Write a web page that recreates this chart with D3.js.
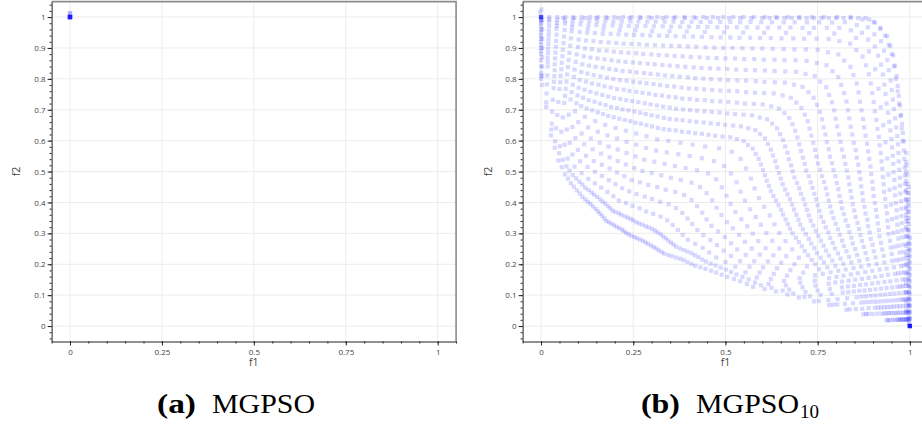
<!DOCTYPE html>
<html>
<head>
<meta charset="utf-8">
<script src="https://cdn.jsdelivr.net/npm/d3@7"></script>
<style>
  body { margin: 0; background: #fff; }
  svg { display: block; }
</style>
</head>
<body>
<svg id="chart" width="922" height="425"></svg>
<script>
const xTicks = [0, 0.25, 0.5, 0.75, 1];
const yTicks = [0, 0.1, 0.2, 0.3, 0.4, 0.5, 0.6, 0.7, 0.8, 0.9, 1];

// (a) MGPSO: everything collapsed onto (0, 1)
const mgpsoPts = [[0,1],[0,1],[0,1],[0,1],[0,1],[0,1],[0,1.012]];

// (b) MGPSO10, corner clusters first
const cornerPts = [[0,1],[0,1],[0,1],[0,1],[0,1],[0,1],[-.002,1.015],[.001,1.025],
  [1,0],[1,0],[1,0],[1,0],[1,0],[1,0],[1,0],[1,0],[1,0],[1,0],[1,0],[1,0]];

// outer rim: right edge column, rounded corner, top row, left column
const edgePts = [
  [.997,.01],[.997,.03],[.997,.05],[.997,.07],[.997,.09],[.997,.11],[.997,.13],[.997,.15],[.997,.17],[.997,.19],[.997,.21],[.997,.23],
  [.997,.25],[.997,.27],[.997,.29],[.997,.31],[.997,.33],[.997,.35],[.997,.37],[.997,.39],[.997,.41],[.997,.43],[.997,.45],
  [1,.005],[1,.025],[1,.045],[1,.065],[1,.085],[1,.105],[1,.125],[1,.145],[1,.165],[1,.185],[1,.205],[1,.225],[1,.245],[1,.265],[1,.285],
  [.994,.31],[.994,.34],[.994,.37],[.994,.40],[.993,.43],[.993,.46],[.992,.49],[.991,.52],
  [.99,.02],[.99,.05],[.99,.08],[.99,.11],[.99,.14],[.99,.17],[.99,.20],[.99,.23],[.99,.26],[.99,.29],[.99,.32],[.99,.35],
  [.99,.38],[.99,.41],[.99,.44],[.99,.47],[.99,.50],[.99,.53],[.99,.56],
  [.981,.60],[.978,.64],[.975,.68],[.971,.72],[.967,.76],[.962,.80],[.957,.84],[.951,.88],[.943,.91],[.933,.94],[.920,.965],[.905,.982],[.89,.992],
  [.88,.997],[.86,.997],[.84,.997],[.82,.997],[.80,.997],[.78,.997],[.76,.997],[.74,.997],[.72,.997],[.70,.997],[.68,.997],[.66,.997],
  [.64,.997],[.62,.997],[.60,.997],[.57,.997],[.54,.997],[.51,.997],[.48,.997],[.45,.997],[.42,.997],[.39,.997],[.36,.997],[.33,.997],
  [.30,.997],[.27,.997],[.24,.997],[.21,.997],[.18,.997],[.15,.997],[.12,.997],[.09,.997],[.06,.997],
  [.003,.78],[.003,.81],[.003,.84],[.003,.87],[.003,.90],[.003,.93],[.003,.96],[.003,.99]
];

const sweepA = [
  [.874,.038],[.887,.039],[.899,.039],[.912,.040],[.924,.040],[.937,.041],[.949,.042],[.962,.042],[.974,.043],[.987,.043],[.999,.044],[.993,.044],
  [.781,.068],[.803,.070],[.824,.072],[.846,.074],[.868,.076],[.890,.078],[.911,.079],[.933,.081],[.955,.083],[.976,.085],[.998,.087],[.987,.086],
  [.699,.092],[.729,.096],[.758,.100],[.788,.104],[.818,.108],[.848,.112],[.877,.115],[.907,.119],[.937,.123],[.966,.127],[.996,.131],[.981,.129],
  [.637,.112],[.673,.118],[.709,.125],[.744,.131],[.780,.137],[.816,.144],[.852,.150],[.888,.156],[.923,.162],[.959,.169],[.995,.175],[.977,.172],
  [.575,.127],[.617,.136],[.659,.146],[.701,.155],[.743,.164],[.785,.174],[.826,.183],[.868,.192],[.910,.201],[.952,.211],[.994,.220],[.973,.215],
  [.540,.145],[.585,.157],[.631,.169],[.676,.181],[.721,.193],[.767,.206],[.812,.218],[.857,.230],[.902,.242],[.948,.254],[.993,.266],[.970,.260],
  [.505,.159],[.554,.174],[.602,.190],[.651,.205],[.699,.221],[.748,.236],[.797,.251],[.845,.267],[.894,.282],[.942,.298],[.991,.313],[.967,.306],
  [.475,.173],[.527,.192],[.578,.210],[.630,.229],[.681,.248],[.733,.267],[.784,.285],[.836,.304],[.887,.323],[.939,.341],[.990,.360],[.964,.351],
  [.446,.185],[.500,.207],[.555,.230],[.609,.252],[.663,.275],[.718,.297],[.772,.319],[.826,.342],[.880,.364],[.935,.387],[.989,.409],[.962,.398],
  [.418,.195],[.475,.222],[.532,.248],[.589,.275],[.646,.301],[.703,.328],[.759,.354],[.816,.381],[.873,.407],[.930,.434],[.987,.460],[.959,.447],
  [.397,.207],[.456,.238],[.515,.268],[.574,.299],[.633,.329],[.692,.360],[.750,.391],[.809,.421],[.868,.452],[.927,.482],[.986,.513],[.956,.498],
  [.377,.218],[.438,.253],[.498,.288],[.559,.323],[.620,.358],[.681,.393],[.741,.428],[.802,.463],[.863,.498],[.923,.533],[.984,.568],[.954,.551],
  [.355,.226],[.418,.266],[.480,.306],[.543,.346],[.605,.386],[.668,.426],[.731,.465],[.793,.505],[.856,.545],[.918,.585],[.981,.625],[.950,.605],
  [.334,.234],[.398,.279],[.462,.324],[.527,.369],[.591,.414],[.655,.459],[.719,.503],[.783,.548],[.848,.593],[.912,.638],[.976,.683],[.944,.661],
  [.319,.245],[.384,.295],[.449,.345],[.514,.395],[.579,.445],[.645,.495],[.710,.545],[.775,.595],[.840,.645],[.905,.695],[.970,.745],[.937,.720],
  [.305,.256],[.371,.311],[.437,.367],[.503,.422],[.569,.477],[.635,.533],[.700,.588],[.766,.643],[.832,.698],[.898,.754],[.964,.809],[.931,.781],
  [.290,.266],[.357,.327],[.423,.388],[.490,.449],[.556,.510],[.623,.571],[.689,.632],[.756,.693],[.822,.754],[.889,.815],[.955,.876],[.922,.846],
  [.276,.276],[.342,.342],[.408,.408],[.475,.475],[.541,.541],[.607,.607],[.673,.673],[.739,.739],[.806,.806],[.872,.872],[.938,.938],[.905,.905],
  [.260,.284],[.324,.354],[.388,.424],[.453,.494],[.517,.564],[.581,.634],[.645,.704],[.709,.774],[.774,.844],[.838,.914],[.902,.984],[.870,.949],
  [.245,.292],[.304,.363],[.364,.434],[.423,.504],[.483,.575],[.542,.646],[.601,.717],[.661,.788],[.720,.858],[.780,.929],[.839,1],[.809,.965],
  [.231,.301],[.285,.371],[.338,.441],[.392,.511],[.445,.581],[.499,.651],[.553,.720],[.606,.790],[.660,.860],[.713,.930],[.767,1],[.740,.965],
  [.219,.312],[.267,.381],[.315,.450],[.363,.518],[.411,.587],[.460,.656],[.508,.725],[.556,.794],[.604,.862],[.652,.931],[.700,1],[.676,.966],
  [.205,.321],[.248,.389],[.291,.457],[.335,.525],[.378,.593],[.421,.661],[.464,.728],[.507,.796],[.551,.864],[.594,.932],[.637,1],[.615,.966],
  [.191,.331],[.230,.398],[.268,.465],[.307,.532],[.345,.599],[.384,.666],[.423,.732],[.461,.799],[.500,.866],[.538,.933],[.577,1],[.558,.967],
  [.177,.340],[.211,.406],[.246,.472],[.280,.538],[.315,.604],[.349,.670],[.383,.736],[.418,.802],[.452,.868],[.487,.934],[.521,1],[.504,.967],
  [.166,.356],[.196,.420],[.226,.485],[.256,.549],[.286,.614],[.316,.678],[.346,.742],[.376,.807],[.406,.871],[.436,.936],[.466,1],[.451,.968],
  [.154,.371],[.180,.434],[.206,.497],[.232,.560],[.258,.623],[.284,.686],[.310,.748],[.336,.811],[.362,.874],[.388,.937],[.414,1],[.401,.969],
  [.141,.387],[.163,.448],[.186,.510],[.208,.571],[.230,.632],[.253,.694],[.275,.755],[.297,.816],[.319,.877],[.342,.939],[.364,1],[.353,.969],
  [.127,.402],[.146,.462],[.165,.522],[.183,.581],[.202,.641],[.221,.701],[.240,.761],[.259,.821],[.277,.880],[.296,.940],[.315,1],[.306,.970],
  [.112,.418],[.128,.476],[.143,.534],[.159,.593],[.174,.651],[.190,.709],[.206,.767],[.221,.825],[.237,.884],[.252,.942],[.268,1],[.260,.971],
  [.097,.439],[.110,.495],[.122,.551],[.135,.607],[.147,.663],[.160,.720],[.172,.776],[.185,.832],[.197,.888],[.210,.944],[.222,1],[.216,.972],
  [.081,.462],[.091,.516],[.100,.570],[.110,.623],[.119,.677],[.129,.731],[.138,.785],[.148,.839],[.157,.892],[.167,.946],[.176,1],[.171,.973],
  [.065,.491],[.072,.542],[.078,.593],[.085,.644],[.092,.695],[.099,.746],[.105,.796],[.112,.847],[.119,.898],[.125,.949],[.132,1],[.129,.975],
  [.047,.536],[.051,.582],[.055,.629],[.059,.675],[.063,.722],[.067,.768],[.071,.814],[.075,.861],[.079,.907],[.083,.954],[.087,1],[.085,.977],
  [.027,.617],[.029,.655],[.030,.694],[.032,.732],[.034,.770],[.036,.809],[.037,.847],[.039,.885],[.041,.923],[.042,.962],[.044,1],[.043,.981],
  [0,.8],[0,.82],[0,.84],[0,.86],[0,.88],[0,.9],[0,.92],[0,.94],[0,.96],[0,.98],[0,1],[0,.99]
];

const sweepB = [
  [.940,.019],[.946,.019],[.953,.020],[.959,.020],[.965,.020],[.972,.021],[.978,.021],[.984,.021],[.991,.022],[.997,.022],[.998,.022],
  [.837,.054],[.854,.055],[.871,.056],[.888,.058],[.905,.059],[.922,.060],[.939,.061],[.956,.063],[.973,.064],[.990,.065],[.995,.066],
  [.753,.081],[.779,.084],[.804,.087],[.830,.090],[.856,.093],[.881,.096],[.907,.099],[.933,.102],[.958,.105],[.984,.108],[.991,.108],
  [.684,.105],[.717,.110],[.750,.115],[.783,.120],[.816,.125],[.848,.130],[.881,.135],[.914,.140],[.947,.145],[.980,.150],[.988,.152],
  [.625,.124],[.664,.132],[.703,.140],[.742,.147],[.781,.155],[.820,.163],[.859,.171],[.898,.179],[.937,.186],[.976,.194],[.985,.196],
  [.580,.141],[.623,.152],[.667,.163],[.711,.173],[.754,.184],[.798,.195],[.841,.206],[.885,.216],[.929,.227],[.972,.238],[.983,.240],
  [.546,.159],[.593,.173],[.640,.187],[.687,.200],[.734,.214],[.781,.228],[.828,.242],[.875,.256],[.922,.269],[.969,.283],[.980,.287],
  [.515,.175],[.565,.192],[.615,.209],[.665,.226],[.715,.243],[.766,.260],[.816,.277],[.866,.294],[.916,.311],[.966,.328],[.978,.333],
  [.487,.189],[.540,.210],[.593,.231],[.646,.251],[.699,.272],[.752,.292],[.805,.313],[.858,.334],[.911,.354],[.964,.375],[.977,.380],
  [.460,.202],[.515,.227],[.571,.251],[.627,.276],[.682,.300],[.738,.325],[.793,.349],[.849,.374],[.905,.398],[.960,.423],[.974,.429],
  [.437,.215],[.495,.244],[.553,.273],[.611,.301],[.669,.330],[.726,.358],[.784,.387],[.842,.416],[.900,.444],[.958,.473],[.973,.480],
  [.417,.229],[.477,.262],[.537,.295],[.596,.328],[.656,.361],[.716,.393],[.776,.426],[.836,.459],[.895,.492],[.955,.525],[.970,.533],
  [.397,.241],[.459,.278],[.520,.316],[.582,.353],[.644,.391],[.705,.428],[.767,.466],[.829,.503],[.890,.541],[.952,.578],[.968,.588],
  [.377,.251],[.440,.294],[.504,.336],[.567,.378],[.630,.421],[.694,.463],[.757,.506],[.821,.548],[.884,.590],[.947,.633],[.963,.643],
  [.359,.264],[.424,.311],[.489,.359],[.553,.406],[.618,.453],[.682,.501],[.747,.548],[.812,.596],[.876,.643],[.941,.690],[.957,.702],
  [.345,.277],[.410,.330],[.476,.383],[.541,.435],[.607,.488],[.672,.540],[.738,.593],[.803,.646],[.869,.698],[.934,.751],[.951,.764],
  [.331,.290],[.397,.348],[.464,.407],[.530,.465],[.596,.523],[.662,.581],[.728,.639],[.795,.698],[.861,.756],[.927,.814],[.943,.828],
  [.316,.303],[.383,.366],[.449,.430],[.515,.494],[.582,.557],[.648,.621],[.715,.684],[.781,.748],[.847,.812],[.914,.875],[.930,.891],
  [.301,.314],[.366,.382],[.431,.450],[.496,.518],[.561,.586],[.627,.655],[.692,.723],[.757,.791],[.822,.859],[.887,.927],[.904,.944],
  [.284,.323],[.346,.394],[.408,.464],[.469,.534],[.531,.605],[.593,.675],[.655,.746],[.717,.816],[.778,.886],[.840,.957],[.856,.974],
  [.266,.332],[.323,.402],[.379,.473],[.436,.543],[.492,.613],[.549,.684],[.605,.754],[.662,.824],[.718,.895],[.775,.965],[.789,.982],
  [.250,.342],[.301,.411],[.352,.480],[.403,.550],[.454,.619],[.505,.688],[.556,.757],[.607,.827],[.658,.896],[.709,.965],[.721,.983],
  [.235,.351],[.281,.419],[.326,.488],[.372,.556],[.418,.624],[.463,.693],[.509,.761],[.555,.829],[.600,.898],[.646,.966],[.658,.983],
  [.218,.360],[.259,.427],[.300,.495],[.341,.562],[.382,.629],[.423,.697],[.464,.764],[.505,.832],[.546,.899],[.587,.966],[.597,.983],
  [.202,.369],[.239,.436],[.275,.502],[.312,.568],[.348,.635],[.385,.701],[.421,.768],[.458,.834],[.494,.900],[.531,.967],[.540,.983],
  [.188,.381],[.220,.446],[.253,.511],[.285,.576],[.317,.641],[.349,.707],[.381,.772],[.414,.837],[.446,.902],[.478,.967],[.486,.984],
  [.174,.396],[.202,.459],[.230,.523],[.258,.587],[.286,.650],[.314,.714],[.342,.777],[.370,.841],[.398,.905],[.426,.968],[.433,.984],
  [.160,.410],[.184,.472],[.208,.534],[.232,.596],[.256,.658],[.281,.721],[.305,.783],[.329,.845],[.353,.907],[.377,.969],[.383,.984],
  [.144,.425],[.165,.486],[.186,.546],[.206,.607],[.227,.667],[.247,.728],[.268,.788],[.289,.849],[.309,.909],[.330,.970],[.335,.985],
  [.129,.440],[.146,.499],[.163,.558],[.180,.617],[.197,.676],[.215,.735],[.232,.794],[.249,.853],[.266,.912],[.283,.971],[.288,.985],
  [.112,.458],[.126,.515],[.140,.572],[.154,.629],[.168,.686],[.182,.743],[.196,.800],[.210,.857],[.224,.914],[.238,.971],[.242,.986],
  [.095,.478],[.106,.533],[.117,.588],[.128,.643],[.139,.698],[.150,.753],[.161,.808],[.172,.863],[.183,.918],[.194,.973],[.196,.986],
  [.077,.503],[.085,.555],[.093,.608],[.101,.660],[.109,.712],[.118,.765],[.126,.817],[.134,.869],[.142,.922],[.150,.974],[.152,.987],
  [.059,.538],[.064,.587],[.070,.636],[.075,.684],[.080,.733],[.086,.781],[.091,.830],[.097,.879],[.102,.927],[.107,.976],[.109,.988],
  [.038,.598],[.041,.640],[.044,.683],[.047,.725],[.050,.767],[.053,.810],[.056,.852],[.059,.894],[.062,.937],[.065,.979],[.065,.989],
  [.014,.724],[.015,.753],[.016,.782],[.017,.811],[.018,.840],[.018,.869],[.019,.898],[.020,.927],[.021,.956],[.022,.985],[.022,.993]
];

const sweepC = [
  [.881,.039],[.931,.041],[.943,.042],[.956,.042],[.968,.043],[.981,.043],[.990,.044],[.996,.044],
  [.792,.069],[.879,.077],[.901,.079],[.922,.080],[.944,.082],[.966,.084],[.982,.086],[.993,.087],
  [.714,.094],[.833,.110],[.863,.114],[.892,.117],[.922,.121],[.952,.125],[.974,.128],[.989,.130],
  [.655,.115],[.798,.141],[.834,.147],[.870,.153],[.906,.159],[.941,.166],[.968,.171],[.986,.174],
  [.596,.132],[.764,.169],[.806,.179],[.847,.188],[.889,.197],[.931,.206],[.963,.213],[.984,.218],
  [.563,.151],[.744,.200],[.790,.212],[.835,.224],[.880,.236],[.925,.248],[.959,.257],[.982,.263],
  [.530,.167],[.724,.229],[.773,.244],[.821,.259],[.870,.275],[.918,.290],[.955,.302],[.979,.310],
  [.501,.183],[.707,.258],[.759,.276],[.810,.295],[.862,.314],[.913,.332],[.952,.346],[.977,.356],
  [.473,.196],[.691,.286],[.745,.308],[.799,.331],[.853,.353],[.908,.376],[.949,.393],[.976,.404],
  [.447,.209],[.675,.315],[.731,.341],[.788,.368],[.845,.394],[.902,.421],[.945,.441],[.973,.454],
  [.427,.223],[.663,.345],[.721,.376],[.780,.406],[.839,.437],[.898,.467],[.942,.490],[.971,.506],
  [.408,.236],[.651,.376],[.711,.411],[.772,.446],[.833,.481],[.893,.516],[.939,.542],[.969,.560],
  [.387,.246],[.637,.406],[.700,.446],[.762,.485],[.825,.525],[.887,.565],[.934,.595],[.966,.615],
  [.366,.257],[.623,.437],[.687,.481],[.751,.526],[.816,.571],[.880,.616],[.928,.650],[.960,.672],
  [.352,.270],[.612,.470],[.678,.520],[.743,.570],[.808,.620],[.873,.670],[.921,.708],[.954,.733],
  [.338,.284],[.602,.505],[.668,.561],[.733,.616],[.799,.671],[.865,.726],[.915,.768],[.948,.795],
  [.324,.297],[.590,.541],[.656,.602],[.723,.663],[.789,.724],[.856,.785],[.906,.831],[.939,.861],
  [.309,.309],[.574,.574],[.640,.640],[.706,.706],[.773,.773],[.839,.839],[.889,.889],[.922,.922],
  [.292,.319],[.549,.599],[.613,.669],[.677,.739],[.742,.809],[.806,.879],[.854,.932],[.886,.967],
  [.275,.328],[.513,.611],[.572,.682],[.631,.753],[.691,.823],[.750,.894],[.795,.947],[.824,.983],
  [.258,.336],[.472,.616],[.526,.686],[.580,.755],[.633,.825],[.687,.895],[.727,.948],[.754,.983],
  [.243,.347],[.436,.622],[.484,.691],[.532,.760],[.580,.828],[.628,.897],[.664,.949],[.688,.983],
  [.227,.355],[.400,.627],[.443,.695],[.486,.762],[.529,.830],[.573,.898],[.605,.949],[.626,.983],
  [.211,.365],[.365,.633],[.404,.699],[.442,.766],[.481,.833],[.519,.900],[.548,.950],[.568,.984],
  [.194,.373],[.332,.637],[.366,.703],[.401,.769],[.435,.835],[.470,.901],[.496,.951],[.513,.984],
  [.181,.388],[.301,.646],[.331,.710],[.361,.775],[.391,.839],[.421,.904],[.444,.952],[.459,.984],
  [.167,.403],[.271,.655],[.297,.717],[.323,.780],[.349,.843],[.375,.906],[.395,.953],[.408,.985],
  [.152,.418],[.242,.663],[.264,.725],[.286,.786],[.308,.847],[.331,.908],[.348,.954],[.359,.985],
  [.137,.432],[.212,.671],[.231,.731],[.250,.791],[.268,.851],[.287,.910],[.301,.955],[.311,.985],
  [.120,.447],[.182,.680],[.198,.738],[.214,.796],[.229,.855],[.245,.913],[.256,.957],[.264,.986],
  [.104,.467],[.154,.692],[.166,.748],[.179,.804],[.191,.860],[.204,.916],[.213,.958],[.219,.986],
  [.086,.489],[.124,.704],[.134,.758],[.143,.812],[.153,.866],[.162,.919],[.169,.960],[.174,.987],
  [.069,.517],[.096,.721],[.102,.771],[.109,.822],[.116,.873],[.122,.924],[.127,.962],[.131,.988],
  [.049,.559],[.065,.745],[.069,.791],[.073,.838],[.077,.884],[.081,.931],[.084,.966],[.086,.989],
  [.028,.636],[.035,.790],[.037,.828],[.038,.866],[.040,.904],[.042,.943],[.043,.972],[.044,.991],
  [0,.81],[0,.89],[0,.91],[0,.93],[0,.95],[0,.97],[0,.985],[0,.995]
];

const sweepD = [
  [.937,.019],[.969,.021],[.975,.021],[.981,.021],[.988,.022],[.994,.022],[1,.022],
  [.828,.053],[.914,.060],[.931,.061],[.948,.062],[.965,.064],[.982,.065],[.999,.066],
  [.740,.080],[.869,.095],[.894,.098],[.920,.101],[.946,.104],[.971,.107],[.997,.109],
  [.668,.102],[.832,.128],[.865,.133],[.898,.138],[.931,.143],[.964,.148],[.996,.153],
  [.606,.120],[.801,.159],[.840,.167],[.879,.175],[.918,.183],[.957,.190],[.995,.198],
  [.558,.136],[.776,.190],[.820,.201],[.863,.211],[.907,.222],[.951,.233],[.994,.243],
  [.523,.152],[.758,.221],[.805,.235],[.852,.249],[.899,.263],[.946,.276],[.992,.290],
  [.490,.166],[.741,.252],[.791,.269],[.841,.286],[.891,.303],[.941,.320],[.991,.337],
  [.461,.179],[.726,.282],[.779,.303],[.832,.324],[.885,.344],[.938,.365],[.990,.385],
  [.432,.190],[.710,.313],[.766,.337],[.821,.362],[.877,.386],[.933,.411],[.988,.435],
  [.408,.201],[.698,.344],[.755,.373],[.813,.402],[.871,.430],[.929,.459],[.987,.487],
  [.387,.213],[.686,.377],[.746,.410],[.806,.443],[.866,.476],[.925,.509],[.985,.541],
  [.366,.222],[.675,.410],[.736,.447],[.798,.485],[.860,.522],[.921,.560],[.983,.597],
  [.345,.230],[.662,.442],[.726,.485],[.789,.527],[.853,.569],[.916,.612],[.979,.654],
  [.327,.240],[.650,.477],[.715,.525],[.780,.572],[.844,.620],[.909,.667],[.973,.714],
  [.312,.251],[.640,.514],[.705,.567],[.771,.620],[.836,.672],[.902,.725],[.967,.777],
  [.298,.261],[.629,.552],[.695,.610],[.762,.669],[.828,.727],[.894,.785],[.960,.843],
  [.283,.271],[.615,.589],[.682,.653],[.748,.716],[.814,.780],[.881,.844],[.947,.907],
  [.268,.280],[.594,.621],[.660,.689],[.725,.757],[.790,.825],[.855,.893],[.920,.961],
  [.253,.288],[.562,.640],[.624,.711],[.686,.781],[.748,.851],[.809,.922],[.871,.992],
  [.238,.297],[.521,.649],[.577,.719],[.634,.789],[.690,.860],[.747,.930],[.803,1],
  [.225,.307],[.480,.654],[.531,.723],[.582,.792],[.633,.862],[.684,.931],[.734,1],
  [.212,.317],[.441,.659],[.486,.727],[.532,.795],[.578,.864],[.623,.932],[.669,1],
  [.198,.326],[.403,.663],[.444,.731],[.485,.798],[.526,.866],[.567,.933],[.607,1],
  [.184,.336],[.367,.668],[.403,.735],[.440,.801],[.476,.867],[.513,.934],[.549,1],
  [.172,.348],[.333,.674],[.365,.740],[.398,.805],[.430,.870],[.462,.935],[.494,1],
  [.160,.364],[.300,.682],[.328,.746],[.356,.809],[.384,.873],[.412,.937],[.440,1],
  [.148,.379],[.269,.690],[.293,.752],[.317,.814],[.341,.876],[.365,.938],[.389,1],
  [.134,.395],[.237,.698],[.258,.758],[.279,.819],[.299,.879],[.320,.940],[.340,1],
  [.120,.410],[.206,.706],[.224,.765],[.241,.824],[.258,.883],[.275,.942],[.292,1],
  [.105,.429],[.175,.715],[.189,.772],[.203,.829],[.217,.886],[.231,.943],[.245,1],
  [.089,.451],[.145,.726],[.156,.781],[.167,.836],[.178,.891],[.189,.946],[.199,1],
  [.073,.477],[.114,.739],[.122,.791],[.130,.843],[.138,.896],[.146,.948],[.154,1],
  [.056,.514],[.083,.757],[.089,.806],[.094,.855],[.100,.903],[.105,.952],[.110,1],
  [.037,.577],[.052,.789],[.055,.831],[.058,.873],[.061,.916],[.064,.958],[.066,1],
  [.014,.709],[.018,.855],[.019,.884],[.020,.913],[.021,.942],[.022,.971],[.022,1]
];

const mgpso10Pts = cornerPts.concat(edgePts, sweepA, sweepB, sweepC, sweepD);

const svg = d3.select('#chart');
svg.append('rect').attr('width', 922).attr('height', 425).attr('fill', '#fff');

const fmt = d3.format('~g');
const sans = '"Open Sans", "Noto Sans", sans-serif';
const serif = '"Liberation Serif", "DejaVu Serif", serif';

function drawPanel(p) {
  const x = d3.scaleLinear().domain([-0.05, 1.05]).range([p.left, p.right]);
  const y = d3.scaleLinear().domain([-0.05, 1.05]).range([p.bottom, p.top]);
  const g = svg.append('g');

  // grid at major ticks
  g.selectAll('.gx').data(xTicks).enter().append('line')
    .attr('x1', d => x(d)).attr('x2', d => x(d))
    .attr('y1', p.top).attr('y2', p.bottom)
    .attr('stroke', '#ececec');
  g.selectAll('.gy').data(yTicks).enter().append('line')
    .attr('x1', p.left).attr('x2', p.right)
    .attr('y1', d => y(d)).attr('y2', d => y(d))
    .attr('stroke', '#ececec');

  // top / right frame
  g.append('path')
    .attr('d', `M${p.left},${p.top}H${p.right}V${p.bottom}`)
    .attr('fill', 'none').attr('stroke', '#8c8c8c').attr('stroke-width', 1.6);

  // points
  const s = p.size;
  g.append('g').selectAll('rect').data(p.points).enter().append('rect')
    .attr('x', d => x(d[0]) - s / 2).attr('y', d => y(d[1]) - s / 2)
    .attr('width', s).attr('height', s)
    .attr('fill', '#0000ff').attr('fill-opacity', p.alpha);

  // axes, major + minor ticks
  const xAxis = g.append('g').attr('transform', `translate(0,${p.bottom})`)
    .call(d3.axisBottom(x).tickValues(xTicks).tickSize(4).tickSizeOuter(0).tickPadding(3.5).tickFormat(fmt));
  g.append('g').attr('transform', `translate(0,${p.bottom})`)
    .call(d3.axisBottom(x).tickValues(d3.range(-0.05, 1.06, 0.05)).tickSize(2).tickFormat(''))
    .call(a => a.select('.domain').remove());

  const yAxis = g.append('g').attr('transform', `translate(${p.left},0)`)
    .call(d3.axisLeft(y).tickValues(yTicks).tickSize(4).tickSizeOuter(0).tickPadding(2).tickFormat(fmt));
  g.append('g').attr('transform', `translate(${p.left},0)`)
    .call(d3.axisLeft(y).tickValues(d3.range(-0.04, 1.05, 0.02)).tickSize(2).tickFormat(''))
    .call(a => a.select('.domain').remove());

  g.selectAll('.domain').attr('stroke', '#222');
  g.selectAll('.tick line').attr('stroke', '#222');
  [xAxis, yAxis].forEach(a => a.selectAll('text')
    .attr('font-family', sans).attr('font-size', 8).attr('fill', '#444'));

  // axis titles
  g.append('text').attr('x', x(0.5)).attr('y', p.bottom + 24.5)
    .attr('text-anchor', 'middle')
    .attr('font-family', sans).attr('font-size', 10.5).attr('fill', '#444').text('f1');
  g.append('text')
    .attr('transform', `translate(${p.yTitleX},${(p.top + p.bottom) / 2}) rotate(-90)`)
    .attr('text-anchor', 'middle').attr('dy', '0.35em')
    .attr('font-family', sans).attr('font-size', 10.5).attr('fill', '#444').text('f2');

  // caption
  const cap = g.append('text').attr('y', 413)
    .attr('font-family', serif).attr('font-size', 28).attr('fill', '#000');
  cap.append('tspan').attr('x', p.capX).attr('font-weight', 'bold')
    .attr('textLength', 39).attr('lengthAdjust', 'spacingAndGlyphs').text(p.capTag);
  cap.append('tspan').attr('x', p.capX + 55)
    .attr('textLength', 103).attr('lengthAdjust', 'spacingAndGlyphs').text('MGPSO');
  if (p.capSub) {
    g.append('text').attr('x', p.capX + 159).attr('y', 418)
      .attr('font-family', serif).attr('font-size', 19).attr('fill', '#000').text(p.capSub);
  }
}

drawPanel({ left: 51.6, right: 456.1, top: 1.6, bottom: 341.5, points: mgpsoPts,
  size: 4.4, alpha: 0.3, yTitleX: 16, capX: 157, capTag: '(a)' });
drawPanel({ left: 522.6, right: 928.3, top: 1.6, bottom: 341.5, points: mgpso10Pts,
  size: 4.2, alpha: 0.15, yTitleX: 488, capX: 641, capTag: '(b)', capSub: '10' });
</script>
</body>
</html>
